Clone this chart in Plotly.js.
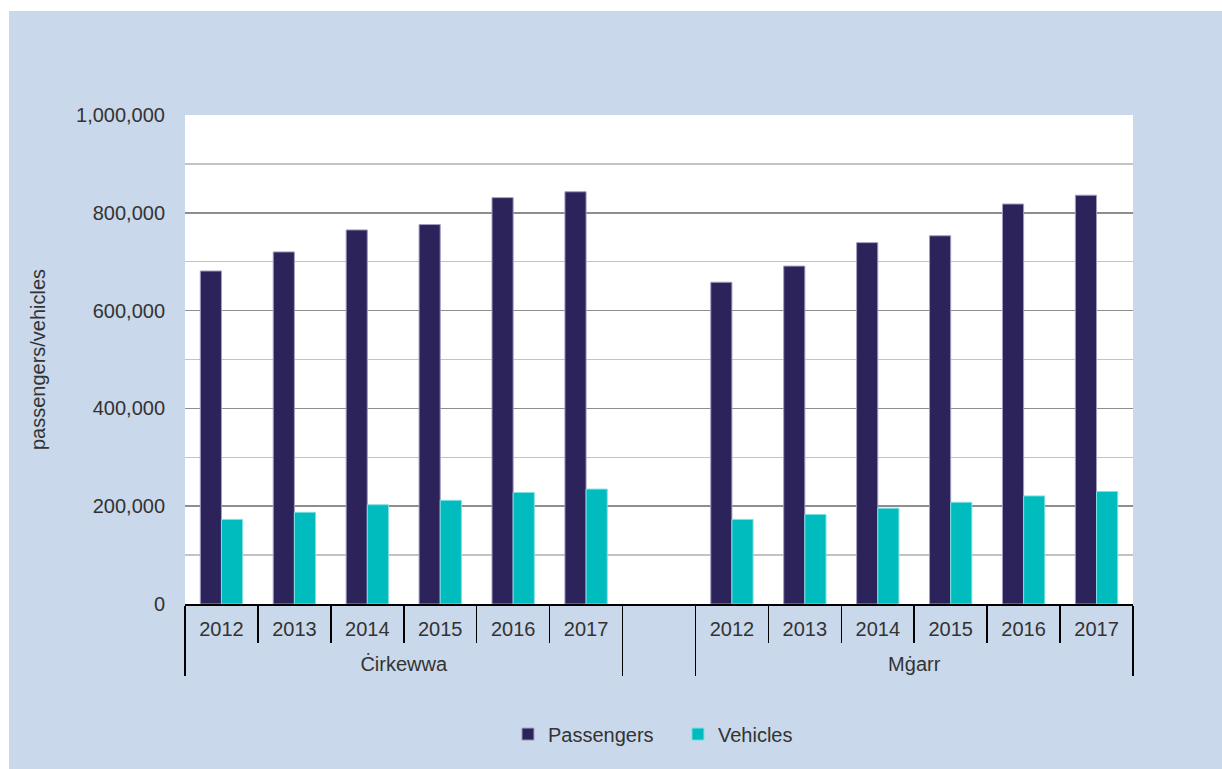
<!DOCTYPE html>
<html>
<head>
<meta charset="utf-8">
<script src="https://cdn.plot.ly/plotly-3.0.1.min.js"></script>
<style>
html,body{margin:0;padding:0;background:#ffffff;}
#chart{width:1222px;height:769px;}
</style>
</head>
<body>
<div id="chart"></div>
<script>
const groups = ['Ċirkewwa', ' ', 'Mġarr'];
const years = ['2012', '2013', '2014', '2015', '2016', '2017'];
const passengersCirkewwa = [681000, 720000, 765000, 776000, 831000, 843000];
const passengersMgarr = [658000, 691000, 739000, 753000, 818000, 836000];
const vehiclesCirkewwa = [173000, 187500, 203000, 212000, 228000, 235000];
const vehiclesMgarr = [173000, 183000, 196000, 208000, 221000, 230000];
const yTickVals = [0, 200000, 400000, 600000, 800000, 1000000];

// group labels pushed one line down, then raised a little (label text only)
const groupLabel = g => g.trim() ? '<br><sup><span style="font-size:20px">' + g + '</span></sup>' : g;

const lvl0 = [], lvl1 = [];
years.forEach(y => { lvl0.push(groupLabel(groups[0])); lvl1.push(y); });
lvl0.push(groups[1]); lvl1.push(' ');
years.forEach(y => { lvl0.push(groupLabel(groups[2])); lvl1.push(y); });

const pass = passengersCirkewwa.concat([null], passengersMgarr);
const veh = vehiclesCirkewwa.concat([null], vehiclesMgarr);

const font = 'Liberation Sans, Arial, sans-serif';

const traces = [
  {type: 'bar', name: 'Passengers', x: [lvl0, lvl1], y: pass,
   marker: {color: '#2c235a', line: {color: '#a19dc0', width: 1}}},
  {type: 'bar', name: 'Vehicles', x: [lvl0, lvl1], y: veh,
   marker: {color: '#00bcbf', line: {color: '#7fdfe0', width: 1}}}
];

const layout = {
  width: 1222, height: 769,
  margin: {l: 185, r: 89, t: 115, b: 165, pad: 0},
  paper_bgcolor: '#c9d8ea',
  plot_bgcolor: '#ffffff',
  font: {family: font, size: 20, color: '#333333'},
  barmode: 'group', bargap: 0.42, bargroupgap: 0,
  showlegend: true,
  legend: {orientation: 'h', x: 0.3407, xanchor: 'left', y: -0.266, yanchor: 'middle',
           font: {family: font, size: 20, color: '#333333'}, bgcolor: 'rgba(0,0,0,0)',
           traceorder: 'normal', itemwidth: 30, entrywidth: 125, entrywidthmode: 'pixels'},
  xaxis: {type: 'multicategory', showline: true, linecolor: '#000000', linewidth: 1.5,
          ticks: 'outside', tickson: 'boundaries', ticklen: 37, tickcolor: '#000000', tickwidth: 1.5,
          dividercolor: '#000000', dividerwidth: 1.5, showgrid: false,
          tickfont: {family: font, size: 20, color: '#333333'}, ticklabelstandoff: 6,
          fixedrange: true},
  yaxis: {range: [0, 1000000], tickvals: yTickVals, tickformat: ',d',
          showgrid: true, gridcolor: '#8e8e8e', gridwidth: 1.5,
          minor: {dtick: 100000, showgrid: true, gridcolor: '#c3c3c3', gridwidth: 1.5},
          zeroline: false, showline: false,
          ticks: 'outside', ticklen: 15, tickcolor: 'rgba(0,0,0,0)',
          tickfont: {family: font, size: 20, color: '#333333'},
          title: {text: 'passengers/vehicles', font: {family: font, size: 20, color: '#333333'}, standoff: 25},
          fixedrange: true},
  shapes: [
    {type: 'rect', layer: 'below', xref: 'paper', yref: 'paper', xsizemode: 'pixel', ysizemode: 'pixel',
     xanchor: 0, yanchor: 1, x0: -200, x1: 1100, y0: 104, y1: 130,
     fillcolor: '#ffffff', line: {width: 0}},
    {type: 'rect', layer: 'below', xref: 'paper', yref: 'paper', xsizemode: 'pixel', ysizemode: 'pixel',
     xanchor: 0, yanchor: 1, x0: -200, x1: -176, y0: -700, y1: 130,
     fillcolor: '#ffffff', line: {width: 0}}
  ]
};

Plotly.newPlot('chart', traces, layout, {displayModeBar: false, staticPlot: true});
</script>
</body>
</html>
